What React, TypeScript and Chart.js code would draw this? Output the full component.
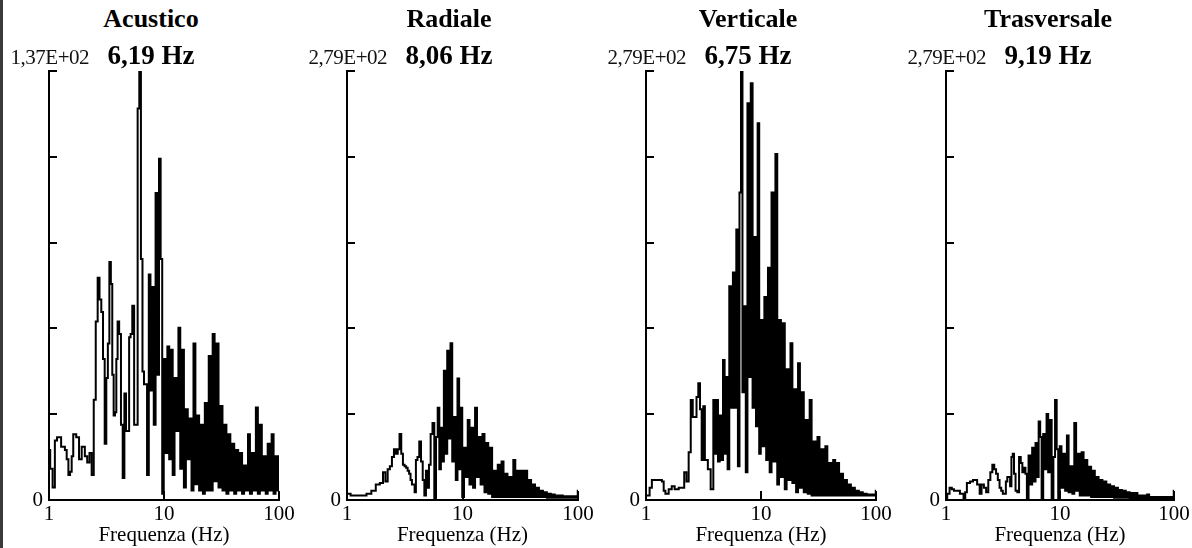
import React, { useEffect, useRef } from 'react';
import { Chart, registerables } from 'chart.js';

Chart.register(...registerables);

// Frequency samples (Hz), shared by the four spectra
const freqHz = [
  1.0, 1.05, 1.1, 1.15, 1.2, 1.25, 1.3, 1.35, 1.4, 1.45,
  1.5, 1.55, 1.6, 1.65, 1.7, 1.75, 1.8, 1.85, 1.9, 1.95,
  2.0, 2.1, 2.2, 2.3, 2.4, 2.5, 2.6, 2.7, 2.8, 2.9,
  3.0, 3.1, 3.2, 3.3, 3.4, 3.5, 3.6, 3.7, 3.8, 3.9,
  4.0, 4.15, 4.3, 4.45, 4.6, 4.75, 4.9, 5.05, 5.2, 5.4,
  5.6, 5.8, 6.0, 6.2, 6.4, 6.6, 6.8, 7.0, 7.25, 7.5,
  7.75, 8.0, 8.3, 8.6, 8.9, 9.2, 9.5, 9.8, 10.1, 10.5,
  10.9, 11.3, 11.7, 12.1, 12.6, 13.1, 13.6, 14.1, 14.6, 15.2,
  15.8, 16.4, 17, 17.7, 18.4, 19.1, 19.8, 20.6, 21.4, 22.2,
  23.1, 24, 25, 26, 27, 28.1, 29.2, 30.4, 31.6, 32.9,
  34.2, 35.6, 37, 38.5, 40, 41.6, 43.3, 45, 46.8, 48.7,
  50.7, 52.7, 54.8, 57, 59.3, 61.7, 64.2, 66.8, 69.5, 72.3,
  75.2, 78.2, 81.3, 84.6, 88, 91.5, 95.2, 99, 100,
];

const acustico = [
  16, 10, 4, 19, 20, 20, 17, 17, 16, 13,
  8, 9, 14, 21, 21, 20, 20, 13, 13, 17,
  17, 14, 12, 15, 8, 32, 57, 71, 64, 60,
  45, 18, 39, 50, 76, 69, 40, 27, 28, 45,
  57, 53, 24, 7, 34, 22, 22, 52, 53, 62,
  24, 24, 125, 137, 77, 41, 37, 37, 8, 72,
  35, 68, 24, 98, 40, 109, 77, 2, 45, 15,
  49, 13, 48, 8, 39, 22, 55, 10, 48, 4,
  29, 13, 26, 3, 50, 5, 27, 3, 24, 2,
  31, 3, 46, 3, 53, 6, 50, 4, 30, 3,
  24, 2, 21, 3, 18, 2, 16, 3, 15, 2,
  11, 3, 21, 2, 15, 3, 29.5, 2, 24, 3,
  14, 2, 18, 3, 21, 2, 14, 3, 14,
];

const radiale = [
  4, 4, 3, 3, 3, 3, 3, 3, 3, 3,
  4, 4, 4, 6, 6, 6, 10, 10, 10, 11,
  11, 18, 12, 20, 22, 28, 33, 30, 33, 43,
  30, 23, 22, 21, 19, 17, 13, 10, 10, 5,
  26, 28, 38, 25, 13, 3, 19, 8, 23, 43,
  50, 0, 41, 60, 20, 47, 25, 84, 30, 97,
  40, 102, 25, 54, 13, 79, 20, 60, 2, 34,
  15, 52, 10, 47, 8, 60, 15, 41, 10, 43,
  5, 37, 4, 34, 2, 19, 2, 23, 2, 25,
  2, 17, 2, 15, 2, 26, 2, 19, 2, 19,
  2, 19, 2, 13, 2, 10, 2, 8, 2, 6,
  2, 5, 1.5, 4, 1.5, 3.5, 1.5, 3, 1.5, 3,
  1.5, 2.5, 1.5, 2.5, 1.5, 2.5, 1.5, 2.5, 6,
];

const verticale = [
  3, 3, 8, 13, 13, 13, 13, 13, 12, 6,
  4, 4, 7, 7, 9, 9, 7, 7, 7, 8,
  8, 8, 18, 12, 31, 65, 54, 54, 67, 76,
  59, 26, 61, 26, 26, 20, 20, 7, 7, 65,
  30, 65, 25, 55, 26, 91, 30, 80, 20, 139,
  60, 148, 60, 176, 22, 200, 279, 70, 126, 18,
  258, 80, 271, 60, 171, 48, 245, 30, 117, 35,
  132, 26, 151, 18, 200, 25, 225, 10, 117, 15,
  115, 7, 85, 13, 102, 11, 72, 5, 89, 8,
  70, 5, 52, 4, 65, 3, 38, 3, 41, 3,
  33, 3, 35, 3, 24, 3, 26, 3, 24, 3,
  17, 3, 13, 3, 10, 3, 8, 3, 6, 3,
  5, 3, 4, 3, 3.5, 3, 3.5, 3, 6,
];

const trasversale = [
  0, 4, 8, 7, 6, 6, 6, 4, 4, 1,
  5, 11, 11, 12, 12, 13, 13, 13, 10, 10,
  4, 10, 8, 5, 13, 18, 23, 20, 17, 13,
  8, 6, 4, 4, 12, 15, 15, 9, 28, 30,
  17, 6, 5, 28, 24, 18, 21, 17, 0, 29,
  10, 34, 12, 37, 15, 51, 41, 0, 43, 20,
  56, 18, 52, 0, 28, 65, 33, 0, 35, 8,
  30, 6, 42, 5, 22, 4, 50, 6, 30, 3,
  31, 3, 26, 3, 21.7, 2, 19, 2, 15, 2,
  13, 2, 12, 2, 10, 2, 9, 1.5, 8, 1.5,
  6.5, 1.5, 6, 1.5, 5, 1, 4.5, 1, 4.5, 1,
  3, 1, 3, 1, 3.5, 1, 2, 1, 2, 1,
  2, 1, 2, 1, 2, 1, 2, 1, 6,
];

const panelTitles = ['Acustico', 'Radiale', 'Verticale', 'Trasversale'];
const peakLabels = ['6,19 Hz', '8,06 Hz', '6,75 Hz', '9,19 Hz'];
const maxLabels = ['1,37E+02', '2,79E+02', '2,79E+02', '2,79E+02'];
const yMaxValues = [137, 279, 279, 279];
const acusticoTicks = [0, 27.4, 54.8, 82.2, 109.6, 137];
const componentTicks = [0, 55.8, 111.6, 167.4, 223.2, 279];
const xTickValues = [1, 10, 100];
const xAxisTitle = 'Frequenza (Hz)';

const seriesList = [acustico, radiale, verticale, trasversale];
const tickList = [acusticoTicks, componentTicks, componentTicks, componentTicks];

// layout (page pixels)
const SERIF = '"Liberation Serif", "Times New Roman", serif';
const AXIS_X = [49, 347, 646, 946];
const PLOT_W = [230, 231, 230, 228];
const Y_AXIS_W = 49;
const RIGHT_PAD = 30;
const CANVAS_TOP = 48;
const CANVAS_H = 500;

function Panel({ index }: { index: number }) {
  const ref = useRef<HTMLCanvasElement | null>(null);
  const axisX = AXIS_X[index];
  const canvasW = Y_AXIS_W + PLOT_W[index] + RIGHT_PAD;

  useEffect(() => {
    const canvas = ref.current;
    if (!canvas) return;
    const values = seriesList[index];
    const yTicks = tickList[index];
    const inwardTicks = {
      id: 'inwardTicks',
      afterDraw(chart: any) {
        const { ctx, chartArea } = chart;
        const xs = chart.scales.x;
        const ys = chart.scales.y;
        ctx.save();
        ctx.strokeStyle = '#000';
        ctx.lineWidth = 2;
        for (const v of yTicks) {
          const py = Math.round(ys.getPixelForValue(v));
          ctx.beginPath();
          ctx.moveTo(chartArea.left, py);
          ctx.lineTo(chartArea.left + 8, py);
          ctx.stroke();
        }
        for (const v of xTickValues) {
          const px = Math.round(xs.getPixelForValue(v));
          ctx.beginPath();
          ctx.moveTo(px, chartArea.bottom);
          ctx.lineTo(px, chartArea.bottom - 9);
          ctx.stroke();
        }
        ctx.restore();
      },
    };
    const chart = new Chart(canvas, {
      type: 'line',
      data: {
        datasets: [
          {
            data: freqHz.map((f, i) => ({ x: f, y: values[i] })),
            borderColor: '#000',
            borderWidth: 2,
            pointRadius: 0,
            stepped: 'middle',
            fill: false,
          },
        ],
      },
      options: {
        animation: false,
        responsive: false,
        devicePixelRatio: 1,
        layout: { padding: { left: 0, right: RIGHT_PAD, top: 23, bottom: 0 } },
        plugins: {
          legend: { display: false },
          tooltip: { enabled: false },
          title: { display: false },
        },
        scales: {
          x: {
            type: 'logarithmic',
            min: 1,
            max: 100,
            afterBuildTicks: (s: any) => {
              s.ticks = xTickValues.map((v) => ({ value: v }));
            },
            afterFit: (s: any) => {
              s.height = 48;
            },
            ticks: {
              autoSkip: false,
              maxRotation: 0,
              padding: 2,
              color: '#000',
              font: { family: SERIF, size: 21 },
              callback: (v: any) => String(v),
            },
            grid: { display: false, drawTicks: false },
            border: { display: true, color: '#000', width: 2 },
            title: {
              display: true,
              text: xAxisTitle,
              color: '#000',
              font: { family: SERIF, size: 21 },
              padding: 0,
            },
          },
          y: {
            min: 0,
            max: yMaxValues[index],
            afterBuildTicks: (s: any) => {
              s.ticks = yTicks.map((v) => ({ value: v }));
            },
            afterFit: (s: any) => {
              s.width = Y_AXIS_W;
            },
            ticks: {
              autoSkip: false,
              padding: 6,
              color: '#000',
              font: { family: SERIF, size: 21 },
              callback: (v: any) => (v === 0 ? '0' : null),
            },
            grid: { display: false, drawTicks: false },
            border: { display: true, color: '#000', width: 2 },
          },
        },
      } as any,
      plugins: [inwardTicks],
    });
    return () => chart.destroy();
  }, [index]);

  const center = axisX + 102;
  return (
    <>
      <canvas
        ref={ref}
        width={canvasW}
        height={CANVAS_H}
        style={{ position: 'absolute', left: axisX - Y_AXIS_W, top: CANVAS_TOP, width: canvasW, height: CANVAS_H }}
      />
      <div
        style={{
          position: 'absolute', left: center - 150, width: 300, top: 6, textAlign: 'center',
          fontFamily: SERIF, fontWeight: 'bold', fontSize: 26, lineHeight: '26px', color: '#000', whiteSpace: 'nowrap',
        }}
      >
        {panelTitles[index]}
      </div>
      <div
        style={{
          position: 'absolute', left: center - 150, width: 300, top: 42, textAlign: 'center',
          fontFamily: SERIF, fontWeight: 'bold', fontSize: 27, lineHeight: '27px', color: '#000', whiteSpace: 'nowrap',
        }}
      >
        {peakLabels[index]}
      </div>
      <div
        style={{
          position: 'absolute', left: axisX + 40 - 200, width: 200, top: 47, textAlign: 'right',
          fontFamily: SERIF, fontSize: 21, lineHeight: '21px', letterSpacing: '-0.5px', color: '#111', whiteSpace: 'nowrap',
        }}
      >
        {maxLabels[index]}
      </div>
    </>
  );
}

export default function App() {
  return (
    <div
      style={{
        position: 'absolute', left: 0, top: 0, width: 1192, height: 548,
        overflow: 'hidden', background: '#fff',
      }}
    >
      <div style={{ position: 'absolute', left: 0, top: 0, width: 3, height: 548, background: '#3a3a3a' }} />
      {[0, 1, 2, 3].map((i) => (
        <Panel key={i} index={i} />
      ))}
    </div>
  );
}
